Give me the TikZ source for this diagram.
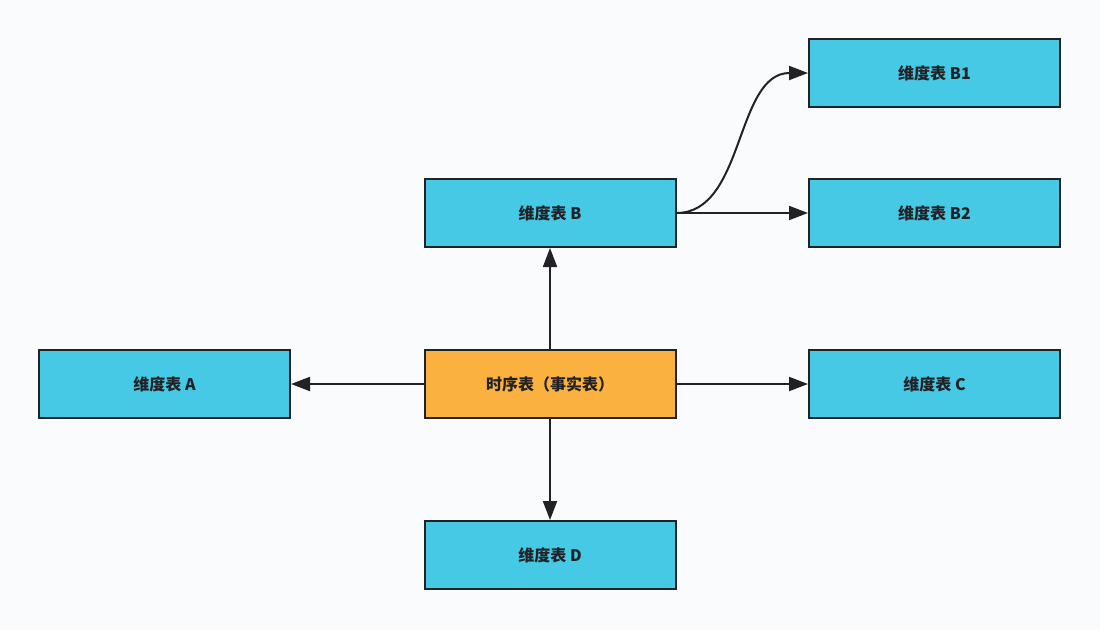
\documentclass[tikz,border=0pt]{standalone}
\usepackage{fontspec}
\newfontfamily\cjk{Noto Sans CJK SC}
\usetikzlibrary{arrows.meta}
\definecolor{bgc}{HTML}{FAFBFD}
\definecolor{cyanbox}{HTML}{45C9E4}
\definecolor{orangebox}{HTML}{FAB140}
\definecolor{ink}{HTML}{222226}
\begin{document}
\begin{tikzpicture}[x=1pt,y=-1pt,
  box/.style={draw=ink,line width=2pt,minimum width=251pt,minimum height=68pt,inner sep=0pt,
    font=\cjk\fontsize{16}{19}\selectfont\bfseries,text=ink},
  dim/.style={box,fill=cyanbox},
  fact/.style={box,fill=orangebox},
  conn/.style={draw=ink,line width=2pt,-{Triangle[length=19pt,width=14pt]}}]
\fill[bgc] (0,0) rectangle (1100,630);
\useasboundingbox (0,0) rectangle (1100,630);
\node[fact] (f) at (550,384) {时序表（事实表）};
\node[dim] (a) at (164.5,384) {维度表 A};
\node[dim] (c) at (934.5,384) {维度表 C};
\node[dim] (b) at (550,213) {维度表 B};
\node[dim] (d) at (550,555) {维度表 D};
\node[dim] (b1) at (934.5,73) {维度表 B1};
\node[dim] (b2) at (934.5,213) {维度表 B2};
\draw[conn] (f) -- (a);
\draw[conn] (f) -- (c);
\draw[conn] (f) -- (b);
\draw[conn] (f) -- (d);
\draw[conn] (b.east) -- (b2.west);
\draw[conn] (b.east) .. controls (745,213) and (735,73) .. (b1.west);
\end{tikzpicture}
\end{document}
